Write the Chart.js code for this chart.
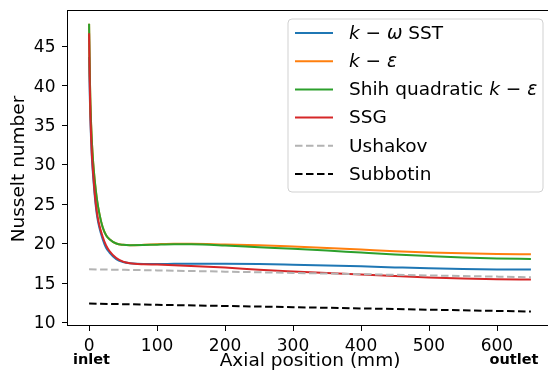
<!DOCTYPE html>
<html>
<head>
<meta charset="utf-8">
<script src="https://cdn.jsdelivr.net/npm/chart.js@4"></script>
<style>
  html, body { margin: 0; padding: 0; background: #fff; }
  #wrap { width: 548px; height: 379px; overflow: hidden; position: relative; }
  #wrap canvas { position: absolute; left: 0; top: 0; }
</style>
</head>
<body>
<div id="wrap"><canvas id="nusseltChart" width="560" height="379"></canvas></div>
<script>
// Axial positions (mm) of the CFD samples
const xPositions = [0, 1, 2, 3, 4, 5, 6, 8, 10, 12, 15, 20, 25, 30, 40, 50, 60, 80, 100, 125, 150, 200, 250, 300, 350, 400, 450, 500, 550, 600, 650];

// Nusselt number per turbulence model
const sstNu  = [43.6, 38.8, 35.4, 33.0, 31.0, 29.6, 28.4, 26.3, 24.6, 23.3, 22.0, 20.5, 19.4, 18.8, 17.95, 17.6, 17.45, 17.35, 17.35, 17.37, 17.38, 17.38, 17.34, 17.25, 17.15, 17.05, 16.92, 16.8, 16.72, 16.66, 16.64];
const kepsNu = [47.8, 41.5, 37.5, 35.0, 33.0, 31.5, 30.2, 28.2, 26.6, 25.3, 23.8, 22.0, 21.0, 20.5, 19.95, 19.78, 19.74, 19.78, 19.85, 19.92, 19.92, 19.82, 19.72, 19.56, 19.38, 19.18, 18.97, 18.82, 18.7, 18.62, 18.58];
const shihNu = [47.8, 41.5, 37.5, 35.0, 33.0, 31.5, 30.2, 28.2, 26.6, 25.3, 23.8, 22.0, 21.0, 20.5, 19.95, 19.78, 19.73, 19.75, 19.8, 19.84, 19.84, 19.7, 19.48, 19.28, 19.05, 18.8, 18.56, 18.36, 18.18, 18.05, 17.99];
const ssgNu  = [46.6, 40.0, 36.0, 33.5, 31.4, 30.0, 28.8, 26.6, 24.9, 23.6, 22.3, 20.8, 19.7, 19.0, 18.1, 17.65, 17.45, 17.32, 17.28, 17.2, 17.1, 16.9, 16.62, 16.4, 16.2, 16.02, 15.82, 15.64, 15.5, 15.41, 15.38];

// Correlations
const corrX      = [0, 100, 200, 300, 400, 500, 600, 650];
const ushakovNu  = [16.68, 16.54, 16.38, 16.22, 16.06, 15.9, 15.75, 15.67];
const subbotinNu = [12.33, 12.18, 12.03, 11.88, 11.72, 11.56, 11.4, 11.32];

// Axis ticks and limits
const xTicks = [0, 100, 200, 300, 400, 500, 600];
const yTicks = [10, 15, 20, 25, 30, 35, 40, 45];
const xLimits = [-32.5, 682.5];
const yLimits = [9.49, 49.55];

const pts = (xs, ys) => xs.map((x, i) => ({ x: x, y: ys[i] }));

const legendItems = [
  { color: "#1f77b4", dash: [], parts: [["k", 1], [" \u2212 ", 0], ["\u03c9", 1], [" SST", 0]] },
  { color: "#ff7f0e", dash: [], parts: [["k", 1], [" \u2212 ", 0], ["\u03b5", 1]] },
  { color: "#2ca02c", dash: [], parts: [["Shih quadratic ", 0], ["k", 1], [" \u2212 ", 0], ["\u03b5", 1]] },
  { color: "#d62728", dash: [], parts: [["SSG", 0]] },
  { color: "#b3b3b3", dash: [7.5, 3.5], parts: [["Ushakov", 0]] },
  { color: "#000000", dash: [7.5, 3.5], parts: [["Subbotin", 0]] },
];

function line(label, data, color, dash, order) {
  return {
    label: label,
    data: data,
    borderColor: color,
    borderWidth: 2,
    borderDash: dash,
    pointRadius: 0,
    cubicInterpolationMode: "monotone",
    fill: false,
    order: order,
  };
}

// frame, ticks, axis titles, inlet/outlet, legend
const decorations = {
  id: "decorations",
  afterDraw(chart) {
    const ctx = chart.ctx;
    const a = chart.chartArea;
    const sx = chart.scales.x, sy = chart.scales.y;
    ctx.save();
    ctx.strokeStyle = "#000";
    ctx.lineWidth = 1;
    ctx.strokeRect(a.left + 0.5, a.top + 0.5, a.right - a.left - 1, a.bottom - a.top - 1);

    ctx.beginPath();
    xTicks.forEach((v) => {
      const px = Math.round(sx.getPixelForValue(v)) + 0.5;
      ctx.moveTo(px, a.bottom);
      ctx.lineTo(px, a.bottom + 5);
    });
    yTicks.forEach((v) => {
      const py = Math.round(sy.getPixelForValue(v)) + 0.5;
      ctx.moveTo(a.left, py);
      ctx.lineTo(a.left - 5, py);
    });
    ctx.stroke();

    ctx.fillStyle = "#000";
    ctx.font = "17px 'DejaVu Sans'";
    ctx.textBaseline = "alphabetic";
    ctx.textAlign = "center";
    xTicks.forEach((v) => ctx.fillText(String(v), sx.getPixelForValue(v), 350.5));
    ctx.textAlign = "right";
    yTicks.forEach((v) => ctx.fillText(String(v), 55.5, sy.getPixelForValue(v) + 6.2));

    ctx.font = "18.5px 'DejaVu Sans'";
    ctx.textAlign = "center";
    ctx.fillText("Axial position (mm)", (a.left + a.right) / 2, 366);

    ctx.save();
    ctx.translate(24, (a.top + a.bottom) / 2 + 1);
    ctx.rotate(-Math.PI / 2);
    ctx.fillText("Nusselt number", 0, 0);
    ctx.restore();

    ctx.font = "bold 14.5px 'DejaVu Sans'";
    ctx.fillText("inlet", 91.5, 363.5);
    ctx.fillText("outlet", 514, 363.5);

    // legend box
    const bx = 288, by = 19, bw = 255, bh = 173, r = 4;
    ctx.beginPath();
    ctx.moveTo(bx + r, by);
    ctx.arcTo(bx + bw, by, bx + bw, by + bh, r);
    ctx.arcTo(bx + bw, by + bh, bx, by + bh, r);
    ctx.arcTo(bx, by + bh, bx, by, r);
    ctx.arcTo(bx, by, bx + bw, by, r);
    ctx.closePath();
    ctx.fillStyle = "rgba(255,255,255,0.8)";
    ctx.fill();
    ctx.strokeStyle = "rgba(204,204,204,0.9)";
    ctx.stroke();

    ctx.textAlign = "left";
    ctx.textBaseline = "middle";
    legendItems.forEach((item, i) => {
      const y = 33 + i * 28.2;
      ctx.beginPath();
      ctx.setLineDash(item.dash);
      ctx.strokeStyle = item.color;
      ctx.lineWidth = 2;
      ctx.moveTo(295, y);
      ctx.lineTo(333, y);
      ctx.stroke();
      ctx.setLineDash([]);
      let x = 349;
      ctx.fillStyle = "#000";
      item.parts.forEach(([t, it]) => {
        ctx.font = (it ? "italic " : "") + "18.5px 'DejaVu Sans'";
        ctx.fillText(t, x, y + 1);
        x += ctx.measureText(t).width;
      });
    });
    ctx.restore();
  },
};

const ctx = document.getElementById("nusseltChart").getContext("2d");

const nusseltChart = new Chart(ctx, {
  type: "line",
  data: {
    datasets: [
      line("k-omega SST", pts(xPositions, sstNu), "#1f77b4", [], 6),
      line("k-epsilon", pts(xPositions, kepsNu), "#ff7f0e", [], 5),
      line("Shih quadratic k-epsilon", pts(xPositions, shihNu), "#2ca02c", [], 4),
      line("SSG", pts(xPositions, ssgNu), "#d62728", [], 3),
      line("Ushakov", pts(corrX, ushakovNu), "#b3b3b3", [7.5, 3.5], 2),
      line("Subbotin", pts(corrX, subbotinNu), "#000000", [7.5, 3.5], 1),
    ],
  },
  options: {
    responsive: false,
    animation: false,
    layout: { padding: { left: 67, top: 10, right: 7, bottom: 53 } },
    plugins: {
      legend: { display: false },
      tooltip: { enabled: false },
    },
    scales: {
      x: { type: "linear", display: false, min: xLimits[0], max: xLimits[1] },
      y: { type: "linear", display: false, min: yLimits[0], max: yLimits[1] },
    },
  },
  plugins: [decorations],
});
</script>
</body>
</html>
